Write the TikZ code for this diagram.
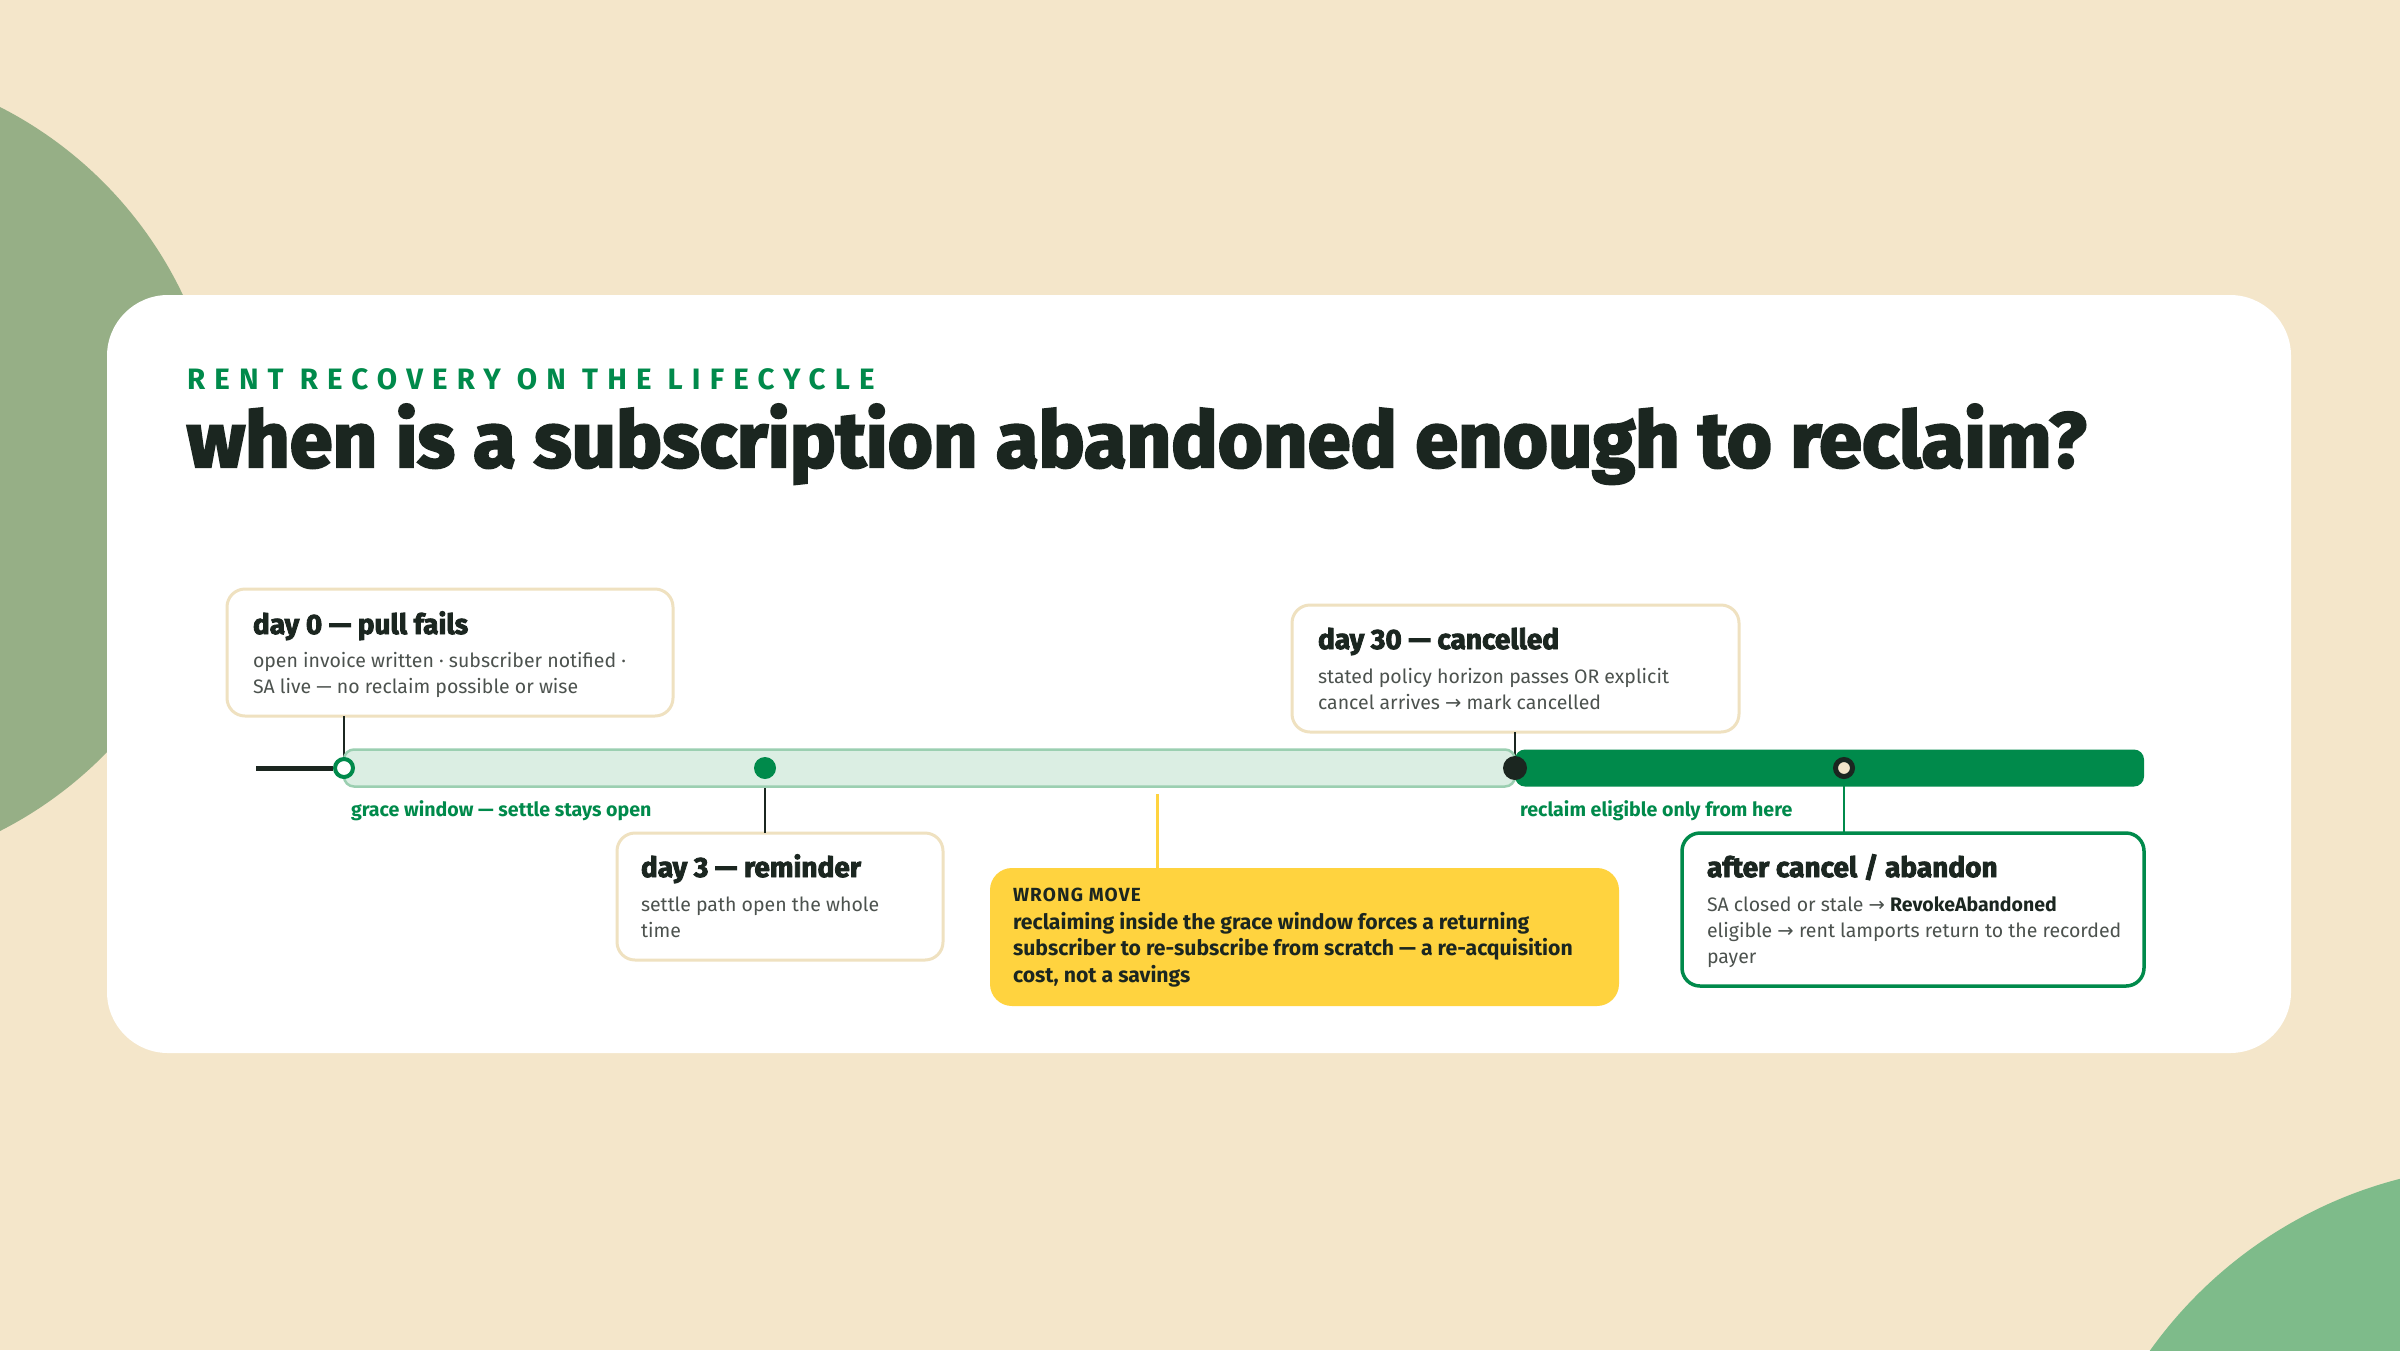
\documentclass[tikz,border=0pt]{standalone}
\usepackage{fontspec}
\setmainfont{Fira Sans}
\newfontfamily\headfont{Fira Sans}[BoldFeatures={FakeBold=3}]
\newfontfamily\kickfont{Fira Sans}[LetterSpace=31]
\newfontfamily\tagfont{Fira Sans}[LetterSpace=6]
\newfontfamily\symfont{DejaVu Sans}
\newcommand{\ra}{{\symfont →}}

\definecolor{paper}{HTML}{F4E6CA}
\definecolor{sage}{HTML}{96AF86}
\definecolor{leaf}{HTML}{7EBB8A}
\definecolor{ink}{HTML}{1B2620}
\definecolor{mute}{HTML}{4C524E}
\definecolor{brand}{HTML}{008A4B}
\definecolor{pale}{HTML}{DBEEE3}
\definecolor{paleline}{HTML}{9BCFB1}
\definecolor{cream}{HTML}{EFE1C0}
\definecolor{warn}{HTML}{FFD33F}

\tikzset{
  every node/.style={inner sep=0pt, outer sep=0pt},
  card/.style={fill=white, rounded corners=61pt},
  evbox/.style={draw=cream, line width=3pt, fill=white, rounded corners=18pt},
  okbox/.style={draw=brand, line width=3.5pt, fill=white, rounded corners=18pt},
  warnbox/.style={fill=warn, rounded corners=22pt},
  evtitle/.style={anchor=base west, text=ink, font=\headfont\bfseries\fontsize{28}{32}\selectfont},
  evbody/.style={anchor=base west, align=left, text=mute, font=\fontsize{19.5}{26}\selectfont},
  barlabel/.style={anchor=base west, text=brand, font=\bfseries\fontsize{19.6}{22}\selectfont},
  tick/.style={draw=ink, line width=2.5pt},
  dot/.style={circle, minimum size=23pt}
}

\begin{document}
\begin{tikzpicture}[x=1pt,y=-1pt]
\useasboundingbox (0,0) rectangle (2400,1350);
\fill[paper] (0,0) rectangle (2400,1350);
\begin{scope}
  \clip (0,0) rectangle (2400,1350);
  \fill[sage] (-184,469) circle [radius=406pt];
  \fill[leaf] (2510,1607) circle [radius=442pt];
\end{scope}
\node[card, anchor=north west, minimum width=2184pt, minimum height=758pt] (card) at (107,295) {};

% heading
\node[anchor=base west, text=brand, font=\kickfont\bfseries\fontsize{29.5}{32}\selectfont] (kicker) at (187,389) {RENT RECOVERY ON THE LIFECYCLE};
\node[anchor=base west, text=ink, font=\headfont\bfseries\fontsize{77.5}{80}\selectfont] (headline) at (187,467) {when is a subscription abandoned enough to reclaim?};

% event boxes
\node[evbox, anchor=north west, minimum width=446pt, minimum height=127pt] (d0) at (227,589) {};
\node[evbox, anchor=north west, minimum width=326pt, minimum height=127pt] (d3) at (617,833) {};
\node[evbox, anchor=north west, minimum width=447pt, minimum height=127pt] (d30) at (1292,605) {};
\node[okbox, anchor=north west, minimum width=462pt, minimum height=153pt] (after) at (1682,833) {};
\node[warnbox, anchor=north west, minimum width=629pt, minimum height=138pt] (wrong) at (990,868) {};

% multi-line bodies sit on their last line
\node[evtitle] (d0t) at ([shift={(26,45)}]d0.north west) {day 0 — pull fails};
\node[evbody] (d0b) at ([shift={(26,104)}]d0.north west) {open invoice written · subscriber notified ·\\SA live — no reclaim possible or wise};
\node[evtitle] (d3t) at ([shift={(24,44)}]d3.north west) {day 3 — reminder};
\node[evbody] (d3b) at ([shift={(24,104)}]d3.north west) {settle path open the whole\\time};
\node[evtitle] (d30t) at ([shift={(26,44)}]d30.north west) {day 30 — cancelled};
\node[evbody] (d30b) at ([shift={(26,104)}]d30.north west) {stated policy horizon passes OR explicit\\cancel arrives \ra{} mark cancelled};
\node[evtitle] (aftert) at ([shift={(25,44)}]after.north west) {after cancel / abandon};
\node[evbody] (afterb) at ([shift={(25,130)}]after.north west) {SA closed or stale \ra{} {\color{ink}\bfseries RevokeAbandoned}\\eligible \ra{} rent lamports return to the recorded\\payer};
\node[anchor=base west, text=ink, font=\tagfont\bfseries\fontsize{19}{22}\selectfont] (wrongt) at ([shift={(23,33)}]wrong.north west) {WRONG MOVE};
\node[anchor=base west, align=left, text=ink, font=\bfseries\fontsize{21.2}{26.5}\selectfont] (wrongb) at ([shift={(23,114)}]wrong.north west) {reclaiming inside the grace window forces a returning\\subscriber to re-subscribe from scratch — a re-acquisition\\cost, not a savings};

% timeline
\coordinate (start) at (256,768);
\node[dot] (m0) at (344,768) {};
\node[dot] (m3) at (765,768) {};
\node[dot] (m30) at (1515,768) {};
\node[dot] (mx) at (1844,768) {};
\coordinate (wtick) at (1157,794);

\draw[tick] (d0.south -| m0) -- (m0.center);
\draw[tick] (d3.north -| m3) -- (m3.center);
\draw[tick] (d30.south -| m30) -- (m30.center);
\draw[brand, line width=2.5pt] (after.north -| mx) -- (mx.center);
\draw[warn, line width=3pt] (wtick) -- (wtick |- wrong.north);
\draw[ink, line width=5pt] (start) -- (m0);

\node[fill=pale, draw=paleline, line width=2.5pt, rounded corners=10pt, anchor=west, minimum width=1171pt, minimum height=37pt] (grace) at (m0) {};
\node[fill=brand, rounded corners=10pt, anchor=west, minimum width=629pt, minimum height=37pt] (reclaim) at (m30) {};

\fill[white] (m0) circle [radius=9pt];
\draw[brand, line width=4pt] (m0) circle [radius=9pt];
\fill[brand] (m3) circle [radius=11pt];
\fill[ink] (m30) circle [radius=12pt];
\fill[paper] (mx) circle [radius=8.5pt];
\draw[ink, line width=5pt] (mx) circle [radius=8.5pt];

\node[barlabel] (gracel) at ([shift={(7,48)}]m0) {grace window — settle stays open};
\node[barlabel] (reclaiml) at ([shift={(5,48)}]m30) {reclaim eligible only from here};
\end{tikzpicture}
\end{document}
